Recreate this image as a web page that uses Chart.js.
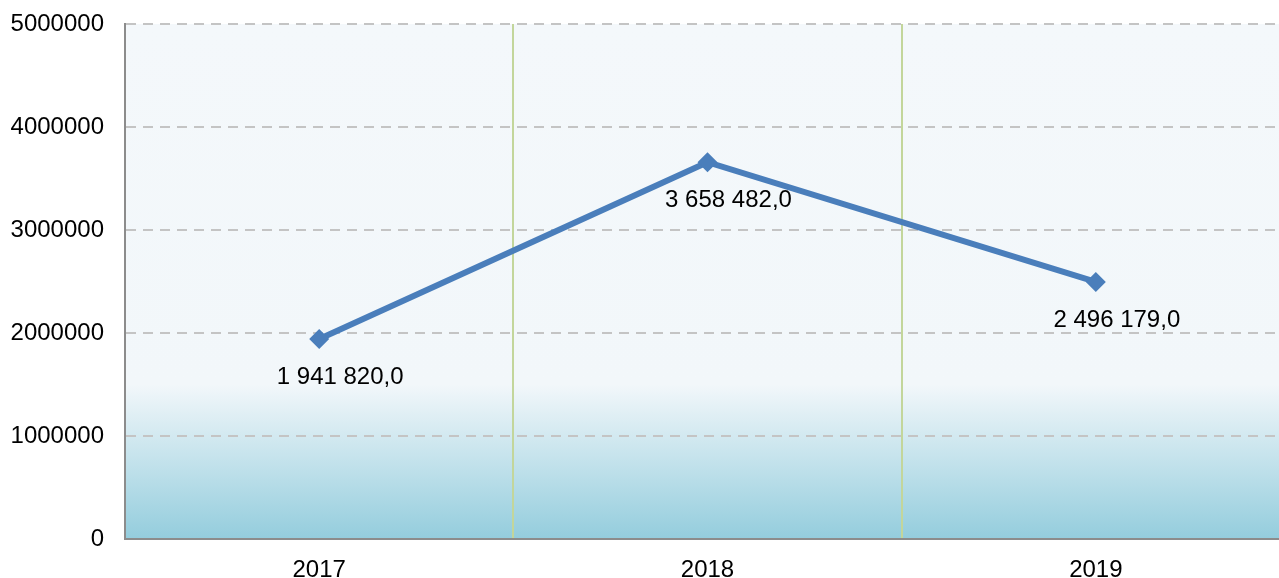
<!DOCTYPE html>
<html>
<head>
<meta charset="utf-8">
<script src="https://cdn.jsdelivr.net/npm/chart.js@4/dist/chart.umd.min.js"></script>
<style>
  html, body { margin: 0; padding: 0; background: #fff; overflow: hidden; }
  /* the plot runs a little past the right edge of the picture, so the canvas is wider than the window */
  #wrap { width: 1290px; height: 578px; position: relative; }
  #chart { display: block; }
</style>
</head>
<body>
<div id="wrap"><canvas id="chart"></canvas></div>
<script>
const years = ['2017', '2018', '2019'];
const values = [1941820.0, 3658482.0, 2496179.0];
const valueLabels = ['1 941 820,0', '3 658 482,0', '2 496 179,0'];

const FONT = '"Liberation Sans", Arial, sans-serif';

// plot background: pale on top, teal fade near the bottom
const plotBackground = {
    id: 'plotBackground',
    beforeDraw(chart) {
        const { ctx, chartArea: a } = chart;
        const g = ctx.createLinearGradient(0, a.top, 0, a.bottom);
        g.addColorStop(0, '#f4f8fb');
        g.addColorStop(0.7, '#f2f7fa');
        g.addColorStop(1, '#94cddd');
        ctx.save();
        ctx.fillStyle = g;
        ctx.fillRect(a.left, a.top, a.right - a.left, a.bottom - a.top);
        ctx.restore();
    }
};

// value labels under each point
const pointLabels = {
    id: 'pointLabels',
    afterDatasetsDraw(chart) {
        const { ctx } = chart;
        const meta = chart.getDatasetMeta(0);
        ctx.save();
        ctx.font = '24px ' + FONT;
        ctx.fillStyle = '#000';
        ctx.textAlign = 'center';
        ctx.textBaseline = 'middle';
        meta.data.forEach((pt, i) => {
            ctx.fillText(valueLabels[i], pt.x + 21, pt.y + 38);
        });
        ctx.restore();
    }
};

function noEdgePadding(scale) {
    scale.paddingTop = 0;
    scale.paddingBottom = 0;
    scale.paddingLeft = 0;
    scale.paddingRight = 0;
}

new Chart(document.getElementById('chart'), {
    type: 'line',
    data: {
        labels: years,
        datasets: [{
            data: values,
            borderColor: '#4a7ebb',
            backgroundColor: '#4a7ebb',
            borderWidth: 6,
            pointStyle: 'rectRot',
            pointRadius: 10,
            pointBorderWidth: 0,
            tension: 0,
        }],
    },
    options: {
        responsive: true,
        maintainAspectRatio: false,
        animation: false,
        layout: {
            autoPadding: false,
            padding: { top: 24, right: 0, left: 0, bottom: 0 },
        },
        plugins: {
            legend: { display: false },
            tooltip: { enabled: false },
        },
        scales: {
            x: {
                offset: true,
                grid: {
                    offset: true,
                    color: '#c3d69b',
                    lineWidth: 2,
                    drawTicks: false,
                },
                border: { color: '#8c8c8c', width: 2 },
                ticks: {
                    color: '#000',
                    padding: 17,
                    font: { family: FONT, size: 24 },
                },
                afterFit(scale) {
                    scale.height = 39;
                    noEdgePadding(scale);
                },
            },
            y: {
                min: 0,
                max: 5000000,
                grid: {
                    color: '#c4c4c4',
                    lineWidth: 2,
                    drawTicks: false,
                },
                border: { color: '#8c8c8c', width: 2, dash: [10, 7] },
                ticks: {
                    stepSize: 1000000,
                    color: '#000',
                    padding: 21,
                    font: { family: FONT, size: 24 },
                    callback: v => String(v),
                },
                afterFit(scale) {
                    scale.width = 125;
                    noEdgePadding(scale);
                },
            },
        },
    },
    plugins: [plotBackground, pointLabels],
});
</script>
</body>
</html>
